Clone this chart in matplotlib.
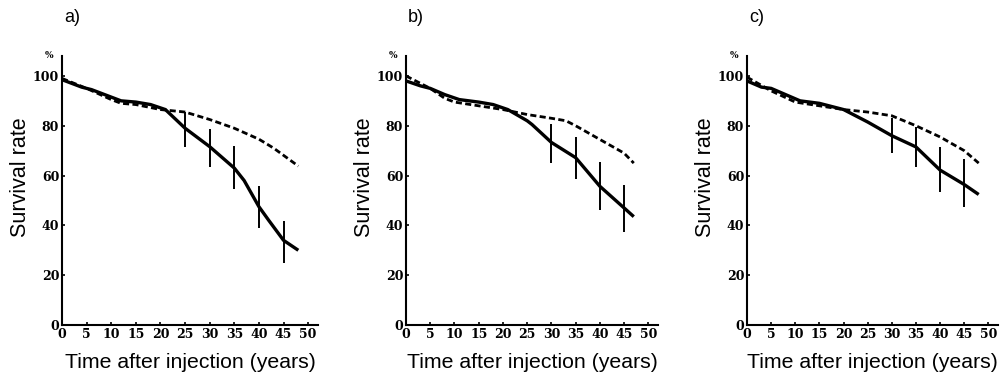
import matplotlib
matplotlib.use("Agg")
import matplotlib.pyplot as plt

# panel a) -- solid (observed) and dashed (reference) survival curves
a_solid_t = [0, 2, 4, 6, 8, 10, 12, 15, 18, 21, 25, 30, 35, 37, 40, 42, 45, 48]
a_solid_v = [98.5, 97, 95.5, 94.5, 93, 91.5, 90, 89.5, 88.5, 86.5, 79, 71.6, 63, 58, 47.5, 42, 34, 30]
a_err_t = [25, 30, 35, 40, 45]
a_err_lo = [71.6, 63.6, 54.6, 38.8, 25]
a_err_hi = [85.7, 78.6, 71.9, 55.8, 41.8]
a_dash_t = [0, 5, 10, 12, 15, 20, 25, 30, 35, 40, 43, 48]
a_dash_v = [99, 95, 90.5, 89, 88.5, 86.5, 85.5, 82.5, 79, 74.6, 71, 63.8]

# panel b)
b_solid_t = [0, 3, 5, 8, 11, 15, 18, 21, 25, 26, 30, 35, 40, 45, 47]
b_solid_v = [98, 96, 95, 92.5, 90.5, 89.5, 88.5, 86.5, 82, 80.5, 73.3, 67.2, 55.7, 47, 43.5]
b_err_t = [30, 35, 40, 45]
b_err_lo = [65.2, 58.7, 46.3, 37.5]
b_err_hi = [80.7, 75.6, 65.5, 56.1]
b_dash_t = [0, 5, 8, 10, 15, 20, 25, 30, 33, 35, 40, 45, 47]
b_dash_v = [100, 95, 91, 89.5, 88, 86.5, 84.5, 83, 82, 80, 74.5, 69, 65]

# panel c)
c_solid_t = [0, 3, 5, 8, 11, 15, 20, 25, 30, 35, 40, 45, 48]
c_solid_v = [98, 95.5, 95, 92.5, 90, 89, 86.5, 81.5, 76, 71.5, 62.2, 56.4, 52.4]
c_err_t = [30, 35, 40, 45]
c_err_lo = [69, 63.4, 53.4, 47.2]
c_err_hi = [83, 79.6, 71.3, 66.5]
c_dash_t = [0, 5, 10, 15, 20, 25, 30, 35, 40, 45, 48]
c_dash_v = [99.5, 94, 89.5, 88, 86.5, 85.5, 84, 80, 75.5, 70, 65]

panel_names = ["a)", "b)", "c)"]
x_ticks = list(range(0, 55, 5))
y_ticks = [0, 20, 40, 60, 80, 100]

panels = [
    (a_solid_t, a_solid_v, a_err_t, a_err_lo, a_err_hi, a_dash_t, a_dash_v),
    (b_solid_t, b_solid_v, b_err_t, b_err_lo, b_err_hi, b_dash_t, b_dash_v),
    (c_solid_t, c_solid_v, c_err_t, c_err_lo, c_err_hi, c_dash_t, c_dash_v),
]

W, H = 1002, 375
fig = plt.figure(figsize=(W / 100, H / 100), dpi=100)
fig.patch.set_facecolor("white")

# axes placement in pixels: (left, right)
ax_px = [(62, 318), (406, 658), (747, 998)]
bottom_px, top_px = 325, 56

for i, (st, sv, et, elo, ehi, dt, dv) in enumerate(panels):
    l, r = ax_px[i]
    ax = fig.add_axes([l / W, (H - bottom_px) / H, (r - l) / W, (bottom_px - top_px) / H])
    ax.plot(dt, dv, color="black", lw=2.0, ls=(0, (2.2, 1.2)))
    ax.plot(st, sv, color="black", lw=2.4, solid_capstyle="butt")
    ax.vlines(et, elo, ehi, color="black", lw=1.4)

    ax.set_xlim(0, 52)
    ax.set_ylim(0, 108)
    for side in ("top", "right"):
        ax.spines[side].set_visible(False)
    for side in ("left", "bottom"):
        ax.spines[side].set_linewidth(1.5)
    ax.set_xticks(x_ticks)
    ax.set_yticks(y_ticks)
    ax.tick_params(direction="in", length=2.5, width=1.2, pad=2)
    for lab in ax.get_xticklabels() + ax.get_yticklabels():
        lab.set_fontfamily("DejaVu Serif")
        lab.set_fontweight("bold")
        lab.set_fontsize(9)

    ax.set_ylabel("Survival rate", fontsize=15.5, family="Liberation Sans")
    ax.yaxis.set_label_coords(-0.122, 0.55)
    ax.set_xlabel("Time after injection (years)", fontsize=15.3, family="Liberation Sans",
                  labelpad=9)
    ax.text(-0.035, 1.0, "%", transform=ax.transAxes, ha="right", va="center",
            fontsize=6.5, fontweight="bold", family="DejaVu Serif")
    fig.text((l + 2) / W, 1 - 17 / H, panel_names[i], fontsize=13,
             family="Liberation Sans", ha="left", va="center")

fig.savefig("out.png", dpi=100, facecolor="white")
